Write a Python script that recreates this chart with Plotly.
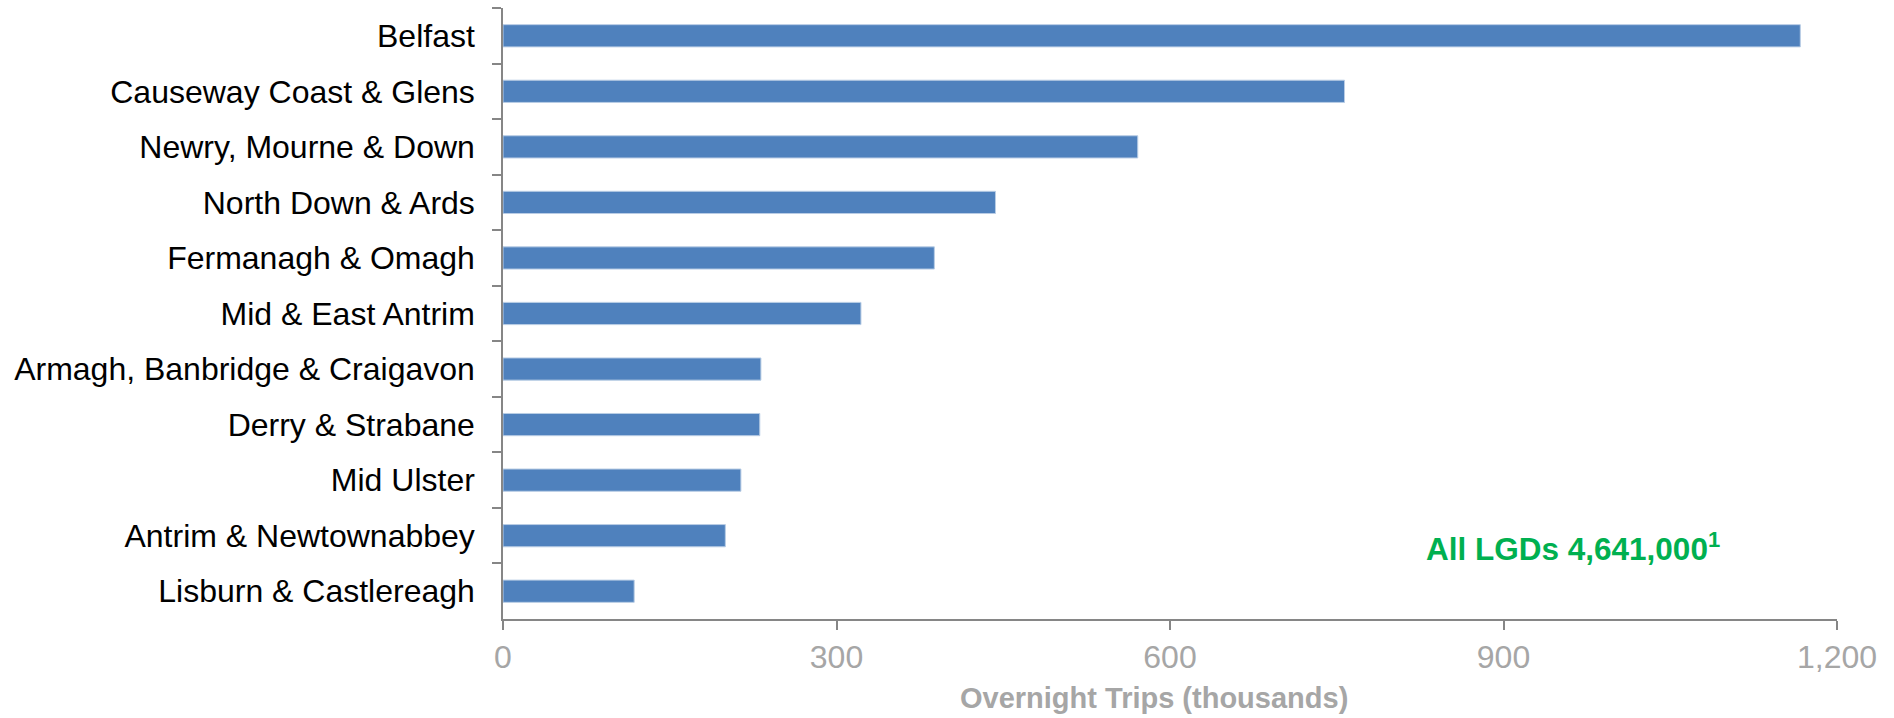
import plotly.graph_objects as go

categories = [
    "Belfast",
    "Causeway Coast & Glens",
    "Newry, Mourne & Down",
    "North Down & Ards",
    "Fermanagh & Omagh",
    "Mid & East Antrim",
    "Armagh, Banbridge & Craigavon",
    "Derry & Strabane",
    "Mid Ulster",
    "Antrim & Newtownabbey",
    "Lisburn & Castlereagh",
]
trips_thousands = [1167, 757, 571, 443, 388, 322, 232, 231, 214, 200, 118]
x_ticks = [0, 300, 600, 900, 1200]
x_tick_labels = ["0", "300", "600", "900", "1,200"]

FONT = "Liberation Sans, Arial, sans-serif"
AXIS_COLOR = "#868686"
GREY_TEXT = "#a6a6a6"

fig = go.Figure()
fig.add_trace(go.Bar(
    y=categories,
    x=trips_thousands,
    orientation="h",
    width=0.4,
    marker=dict(color="#4F81BD", line=dict(color="#b9cde5", width=1)),
    hoverinfo="x+y",
))

fig.update_layout(
    width=1894,
    height=718,
    margin=dict(l=503, r=57, t=8, b=99),
    paper_bgcolor="white",
    plot_bgcolor="white",
    showlegend=False,
    font=dict(family=FONT),
    xaxis=dict(
        range=[0, 1200],
        tickvals=x_ticks,
        ticktext=x_tick_labels,
        showgrid=False,
        zeroline=False,
        showline=True,
        linecolor=AXIS_COLOR,
        linewidth=1.5,
        ticks="outside",
        ticklen=9,
        tickcolor=AXIS_COLOR,
        tickwidth=1.5,
        tickfont=dict(size=32, color=GREY_TEXT, family=FONT),
        fixedrange=True,
    ),
    yaxis=dict(
        categoryorder="array",
        categoryarray=categories,
        autorange="reversed",
        showgrid=False,
        zeroline=False,
        showline=True,
        linecolor=AXIS_COLOR,
        linewidth=1.5,
        ticks="outside",
        tickson="boundaries",
        ticklen=9,
        tickcolor=AXIS_COLOR,
        tickwidth=1.5,
        ticklabelstandoff=20,
        tickfont=dict(size=32, color="black", family=FONT),
        fixedrange=True,
    ),
    annotations=[
        dict(
            text="<b>Overnight Trips (thousands)</b>",
            x=0.4877, y=698,
            xref="paper", yref="paper",
            xanchor="center", yanchor="middle",
            showarrow=False,
            font=dict(size=29, color=GREY_TEXT, family=FONT),
        ),
        dict(
            text="<b>All LGDs 4,641,000<sup>1</sup></b>",
            x=0.802, y=0.118,
            xref="paper", yref="paper",
            xanchor="center", yanchor="middle",
            showarrow=False,
            font=dict(size=31.5, color="#00B050", family=FONT),
        ),
    ],
)

# convert the axis-title pixel row (698 px from top) into paper units
plot_top, plot_bottom = 8, 619
fig.layout.annotations[0].y = (plot_bottom - 698) / (plot_bottom - plot_top)

fig.write_html("out.html")
